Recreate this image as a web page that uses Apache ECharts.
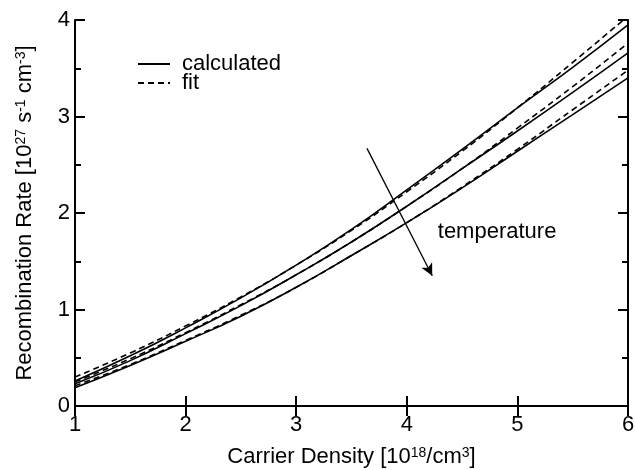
<!DOCTYPE html>
<html>
<head>
<meta charset="utf-8">
<script src="https://cdn.jsdelivr.net/npm/echarts@6/dist/echarts.min.js"></script>
<style>
  html, body { margin: 0; padding: 0; background: #fff; }
  #chart { width: 635px; height: 470px; }
</style>
</head>
<body>
<div id="chart"></div>
<script>
// carrier density [1e18/cm3]
var density = [1, 1.5, 2, 2.5, 3, 3.5, 4, 4.5, 5, 5.5, 6];

// calculated (solid), low -> high temperature
var calcLow = [0.26, 0.52, 0.81, 1.12, 1.46, 1.83, 2.24, 2.66, 3.09, 3.51, 3.95];
var calcMid = [0.23, 0.47, 0.75, 1.04, 1.36, 1.70, 2.07, 2.46, 2.85, 3.25, 3.66];
var calcHigh = [0.19, 0.42, 0.67, 0.93, 1.23, 1.56, 1.90, 2.26, 2.64, 3.02, 3.40];

// fit (dashed)
var fitLow = [0.30, 0.55, 0.83, 1.13, 1.46, 1.82, 2.22, 2.64, 3.09, 3.56, 4.04];
var fitMid = [0.25, 0.49, 0.76, 1.05, 1.36, 1.70, 2.07, 2.46, 2.88, 3.31, 3.76];
var fitHigh = [0.21, 0.43, 0.68, 0.94, 1.23, 1.56, 1.90, 2.27, 2.66, 3.07, 3.48];

// temperature arrow (data coords)
var arrowFrom = [3.64, 2.67];
var arrowTo = [4.23, 1.35];
var arrowLabelAt = [4.28, 1.80];

var font = "Liberation Sans";
var fs = 22;

function pairs(ys) {
  return density.map(function (x, i) { return [x, ys[i]]; });
}

function curve(name, ys, dashed) {
  return {
    name: name,
    type: "line",
    smooth: true,
    showSymbol: false,
    symbol: "none",
    silent: true,
    animation: false,
    color: "#000",
    itemStyle: { color: "#000" },
    lineStyle: { color: "#000", width: 1.6, type: dashed ? [6, 4] : "solid" },
    data: pairs(ys)
  };
}

var chart = echarts.init(document.getElementById("chart"));

var sup = { fontSize: 14, verticalAlign: "top", lineHeight: 14, fontFamily: font, color: "#000" };

var series = [
  curve("calculated", calcLow, false),
  curve("calculated", calcMid, false),
  curve("calculated", calcHigh, false),
  curve("fit", fitLow, true),
  curve("fit", fitMid, true),
  curve("fit", fitHigh, true)
];

// arrow + label
series.push({
  type: "line",
  data: [],
  silent: true,
  animation: false,
  markLine: {
    silent: true,
    animation: false,
    symbol: ["none", "arrow"],
    symbolSize: [9, 12],
    lineStyle: { color: "#000", width: 1.3, type: "solid" },
    label: { show: false },
    data: [[{ coord: arrowFrom }, { coord: arrowTo }]]
  },
  markPoint: {
    silent: true,
    animation: false,
    symbol: "circle",
    symbolSize: 0,
    label: {
      show: true,
      position: "right",
      distance: 0,
      formatter: "temperature",
      fontSize: fs,
      fontFamily: font,
      color: "#000"
    },
    data: [{ coord: arrowLabelAt }]
  }
});

var axisLine = { show: true, lineStyle: { color: "#000", width: 2 } };
var tick = { show: true, inside: true, length: 10, lineStyle: { color: "#000", width: 2 } };
var minor = { show: true, splitNumber: 2, length: 6, lineStyle: { color: "#000", width: 2 } };

chart.setOption({
  backgroundColor: "#fff",
  animation: false,
  grid: { left: 75, right: 7, top: 20, bottom: 64, containLabel: false, outerBoundsMode: "none" },
  legend: {
    data: ["calculated", "fit"],
    orient: "vertical",
    left: 137,
    top: 53,
    padding: 0,
    itemWidth: 32,
    itemHeight: 14,
    itemGap: -3,
    itemStyle: { opacity: 0 },
    textStyle: { fontSize: fs, fontFamily: font, color: "#000", padding: [0, 0, 0, 7] },
    selectedMode: false
  },
  xAxis: [
    {
      type: "value",
      min: 1,
      max: 6,
      interval: 1,
      position: "bottom",
      axisLine: axisLine,
      axisTick: tick,
      splitLine: { show: false },
      axisLabel: { fontSize: fs, fontFamily: font, color: "#000", margin: 8 },
      name: "Carrier Density [10{s|18}/cm{s|3}]",
      nameLocation: "middle",
      nameGap: 40,
      nameTextStyle: { fontSize: fs, fontFamily: font, color: "#000", rich: { s: sup } }
    },
    {
      type: "value",
      min: 1,
      max: 6,
      interval: 1,
      position: "top",
      axisLine: axisLine,
      axisTick: tick,
      splitLine: { show: false },
      axisLabel: { show: false }
    }
  ],
  yAxis: [
    {
      type: "value",
      min: 0,
      max: 4,
      interval: 1,
      position: "left",
      axisLine: axisLine,
      axisTick: tick,
      minorTick: minor,
      splitLine: { show: false },
      axisLabel: { fontSize: fs, fontFamily: font, color: "#000", margin: 5 },
      name: "Recombination Rate [10{s|27} s{s|-1} cm{s|-3}]",
      nameLocation: "middle",
      nameGap: 39,
      nameTextStyle: { fontSize: fs, fontFamily: font, color: "#000", rich: { s: sup } }
    },
    {
      type: "value",
      min: 0,
      max: 4,
      interval: 1,
      position: "right",
      axisLine: axisLine,
      axisTick: tick,
      minorTick: minor,
      splitLine: { show: false },
      axisLabel: { show: false }
    }
  ],
  series: series
});
</script>
</body>
</html>
